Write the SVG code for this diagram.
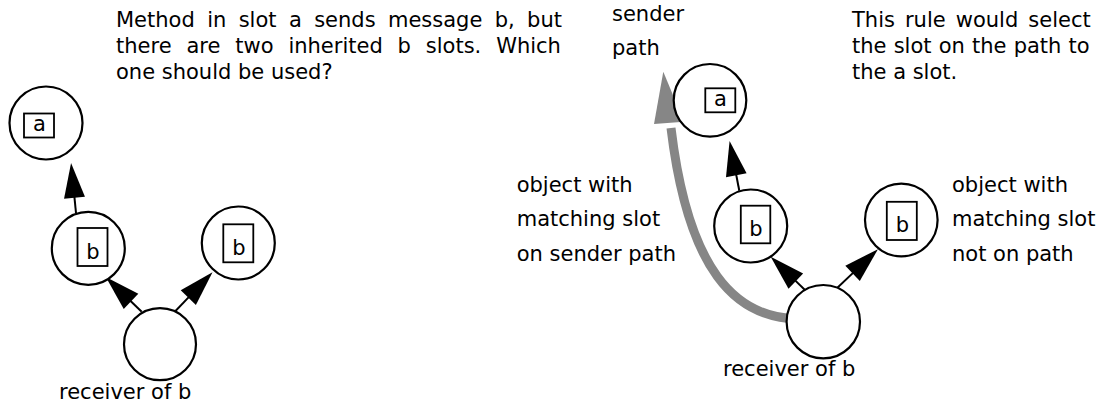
<svg xmlns="http://www.w3.org/2000/svg" width="1099" height="406" viewBox="0 0 1099 406">
  <style>
    text { font-family: "DejaVu Sans", Verdana, sans-serif; font-size: 21px; fill: #000; }
    .slot text { font-size: 21px; text-anchor: middle; }
    .obj { fill: #fff; stroke: #000; stroke-width: 2.2; }
    .box { fill: #fff; stroke: #000; stroke-width: 1.8; }
    .link { fill: none; stroke: #000; stroke-width: 2; marker-end: url(#head); }
    .sender { fill: none; stroke: #868686; stroke-width: 9; }
  </style>
  <defs>
    <marker id="head" markerUnits="userSpaceOnUse" markerWidth="36" markerHeight="22" refX="1" refY="10.5" orient="auto" overflow="visible">
      <path d="M0,0 L35,10.5 L0,21 Z" fill="#000"/>
    </marker>
  </defs>

  <!-- explanatory text -->
  <g id="question">
    <text x="116" y="26.5" word-spacing="5.7">Method in slot a sends message b, but</text>
    <text x="116" y="52.5" word-spacing="8.2">there are two inherited b slots. Which</text>
    <text x="116" y="78.5">one should be used?</text>
  </g>
  <g id="rule">
    <text x="852" y="26.5" word-spacing="3.4">This rule would select</text>
    <text x="852" y="52.5" word-spacing="0.5">the slot on the path to</text>
    <text x="852" y="78.5">the a slot.</text>
  </g>

  <!-- connectors -->
  <g id="connectors">
    <line class="link" x1="76" y1="213" x2="74.4" y2="196.8"/>
    <line class="link" x1="141.7" y1="311.7" x2="130.3" y2="300.7"/>
    <line class="link" x1="173.3" y1="313.3" x2="189" y2="296.9"/>
    <line class="link" x1="739.3" y1="190.7" x2="736.1" y2="174.3"/>
    <line class="link" x1="805" y1="290" x2="795.1" y2="280.4"/>
    <line class="link" x1="835" y1="290" x2="853.3" y2="272.6"/>
    <path class="sender" d="M798,319 C735,318 688,270 671,128"/>
    <polygon points="663.3,71.7 684,121.7 654,124" fill="#868686"/>
  </g>

  <!-- left: receiver with two inherited b slots -->
  <g id="left-a" class="slot">
    <circle class="obj" cx="46" cy="123" r="36.5"/>
    <rect class="box" x="24" y="113.5" width="30" height="24"/>
    <text x="39.5" y="131">a</text>
  </g>
  <g id="left-b1" class="slot">
    <circle class="obj" cx="88.3" cy="248.3" r="36.5"/>
    <rect class="box" x="77.5" y="228" width="30" height="38"/>
    <text x="93" y="258.5">b</text>
  </g>
  <g id="left-b2" class="slot">
    <circle class="obj" cx="238.3" cy="243" r="36.5"/>
    <rect class="box" x="223.3" y="224.3" width="30" height="38"/>
    <text x="238.8" y="254.5">b</text>
  </g>
  <g id="left-receiver">
    <circle class="obj" cx="160" cy="344.2" r="36"/>
    <text x="59" y="399">receiver of b</text>
  </g>

  <!-- right: sender path rule -->
  <g id="right-a" class="slot">
    <circle class="obj" cx="710" cy="100.3" r="36.3"/>
    <rect class="box" x="705.3" y="88.3" width="30" height="24"/>
    <text x="720.5" y="106">a</text>
  </g>
  <g id="right-b1" class="slot">
    <circle class="obj" cx="750.7" cy="226" r="36.5"/>
    <rect class="box" x="740.8" y="205.7" width="29.5" height="37.6"/>
    <text x="756" y="236">b</text>
  </g>
  <g id="right-b2" class="slot">
    <circle class="obj" cx="901.3" cy="220" r="36.3"/>
    <rect class="box" x="886.8" y="201.8" width="30" height="38.2"/>
    <text x="902.3" y="232">b</text>
  </g>
  <g id="right-receiver">
    <circle class="obj" cx="823.3" cy="321.7" r="36.7"/>
    <text x="723" y="375.5">receiver of b</text>
  </g>

  <!-- labels -->
  <g id="sender-label">
    <text x="612" y="21">sender</text>
    <text x="612" y="55">path</text>
  </g>
  <g id="on-path-label">
    <text x="516.7" y="192">object with</text>
    <text x="516.7" y="226">matching slot</text>
    <text x="516.7" y="261">on sender path</text>
  </g>
  <g id="off-path-label">
    <text x="952" y="192">object with</text>
    <text x="952" y="226">matching slot</text>
    <text x="952" y="261">not on path</text>
  </g>
</svg>
